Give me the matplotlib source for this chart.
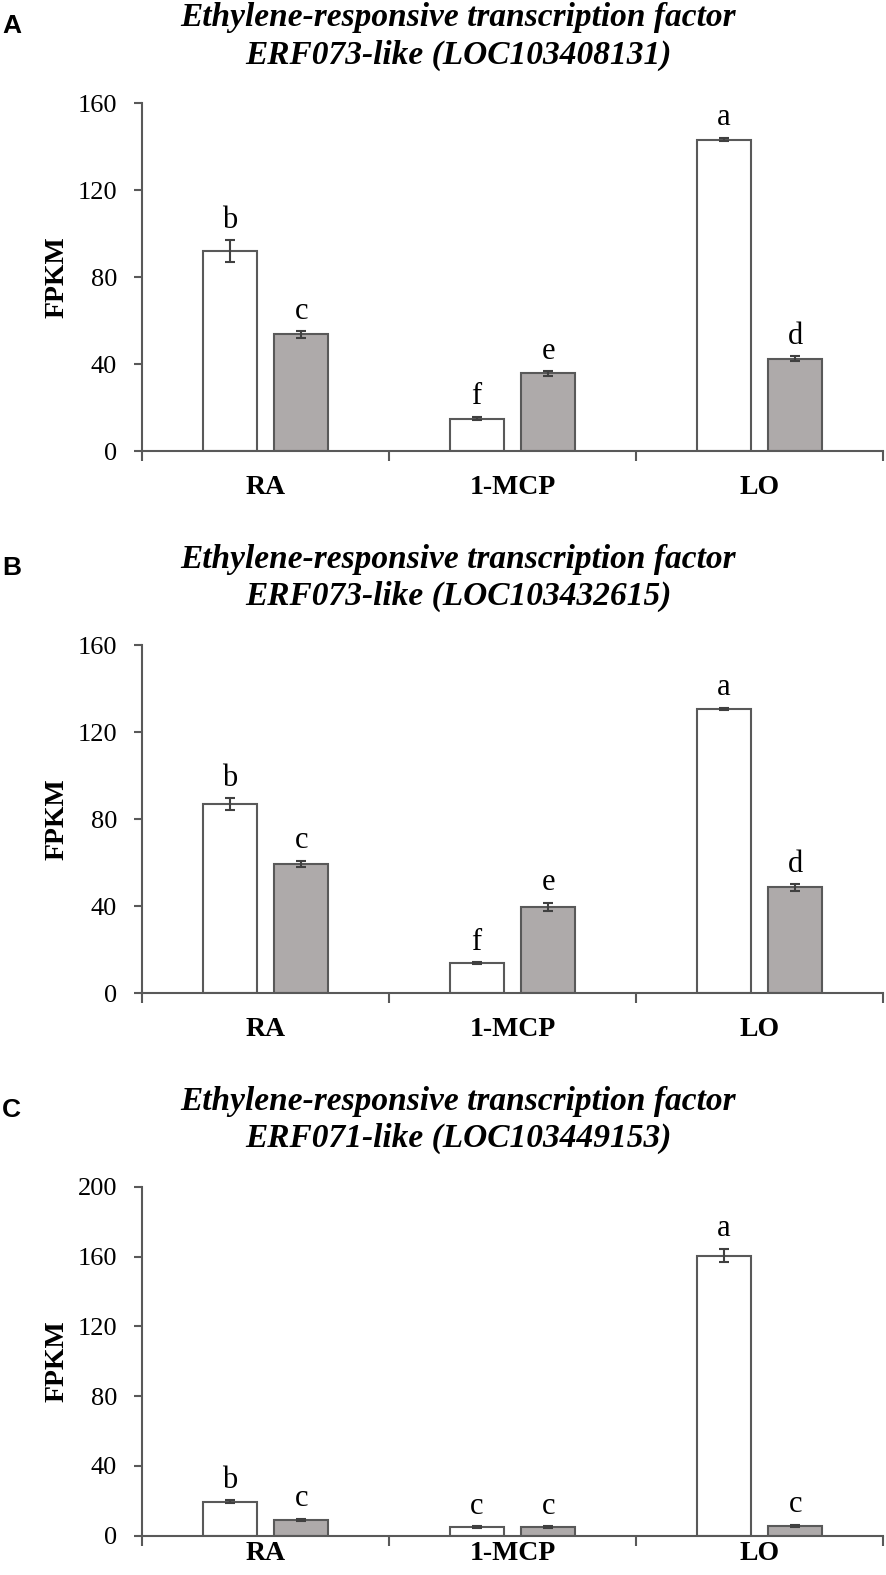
import matplotlib
matplotlib.use("Agg")
import matplotlib.pyplot as plt
import numpy as np

# ---------------- data ----------------
categories = ["RA", "1-MCP", "LO"]

titles = [
    "Ethylene-responsive transcription factor\nERF073-like (LOC103408131)",
    "Ethylene-responsive transcription factor\nERF073-like (LOC103432615)",
    "Ethylene-responsive transcription factor\nERF071-like (LOC103449153)",
]
panel_labels = ["A", "B", "C"]

A_white = [92.0, 14.9, 143.3]
A_white_err = [4.9, 0.8, 0.8]
A_grey = [53.7, 35.7, 42.5]
A_grey_err = [1.5, 1.0, 1.0]
A_white_letters = ["b", "f", "a"]
A_grey_letters = ["c", "e", "d"]

B_white = [86.8, 13.8, 130.6]
B_white_err = [2.8, 0.5, 0.6]
B_grey = [59.4, 39.8, 48.7]
B_grey_err = [1.6, 1.8, 1.5]
B_white_letters = ["b", "f", "a"]
B_grey_letters = ["c", "e", "d"]

C_white = [19.5, 4.8, 160.5]
C_white_err = [0.8, 0.5, 3.9]
C_grey = [9.2, 4.8, 5.8]
C_grey_err = [0.6, 0.6, 0.6]
C_white_letters = ["b", "c", "a"]
C_grey_letters = ["c", "c", "c"]

y_max = [160, 160, 200]
y_step = 40

panels = [
    (A_white, A_white_err, A_grey, A_grey_err, A_white_letters, A_grey_letters),
    (B_white, B_white_err, B_grey, B_grey_err, B_white_letters, B_grey_letters),
    (C_white, C_white_err, C_grey, C_grey_err, C_white_letters, C_grey_letters),
]

# ---------------- style ----------------
W, H = 886, 1575
DPI = 100
SERIF = ["Liberation Serif", "DejaVu Serif"]
SANS = ["Liberation Sans", "DejaVu Sans"]
EDGE = "#595959"
GREY = "#AEAAAA"
ERRC = "#404040"

plt.rcParams["font.family"] = SERIF

fig = plt.figure(figsize=(W / DPI, H / DPI), dpi=DPI)

# axes placement in pixels: (y of zero line, y of top)
ax_rows = [(451, 103.3), (993.3, 645), (1535.7, 1186.7)]
x_left, x_right = 142, 883
xlabel_pads = [17, 17, 4]

bar_w = 0.22
off = 0.145
x = np.arange(len(categories))

for i, (row, data) in enumerate(zip(ax_rows, panels)):
    y0, ytop = row
    white, werr, grey, gerr, wl, gl = data
    ax = fig.add_axes([x_left / W, 1 - y0 / H, (x_right - x_left) / W, (y0 - ytop) / H])

    ax.bar(x - off, white, bar_w, color="white", edgecolor=EDGE, linewidth=1.5, zorder=2)
    ax.bar(x + off, grey, bar_w, color=GREY, edgecolor=EDGE, linewidth=1.5, zorder=2)
    ax.errorbar(x - off, white, yerr=werr, fmt="none", ecolor=ERRC, elinewidth=1.5,
                capsize=3.5, capthick=1.5, zorder=3)
    ax.errorbar(x + off, grey, yerr=gerr, fmt="none", ecolor=ERRC, elinewidth=1.5,
                capsize=3.5, capthick=1.5, zorder=3)

    for xi, v, e, t in zip(x - off, white, werr, wl):
        ax.annotate(t, (xi, v + e), xytext=(0, 9), textcoords="offset points",
                    ha="center", va="baseline", fontsize=22, family=SERIF, color="black")
    for xi, v, e, t in zip(x + off, grey, gerr, gl):
        ax.annotate(t, (xi, v + e), xytext=(0, 9), textcoords="offset points",
                    ha="center", va="baseline", fontsize=22, family=SERIF, color="black")

    ax.set_xlim(-0.5, len(categories) - 0.5)
    ax.set_ylim(0, y_max[i])
    ax.set_yticks(np.arange(0, y_max[i] + 1, y_step))
    ax.tick_params(axis="y", direction="out", length=6, width=1.5, color=EDGE,
                   labelsize=19, pad=12, labelcolor="black")

    # major ticks at category boundaries, labels at centers via minor ticks
    ax.set_xticks(np.arange(-0.5, len(categories), 1.0))
    ax.set_xticklabels([])
    ax.set_xticks(x, minor=True)
    ax.set_xticklabels(categories, minor=True, fontsize=20, fontweight="bold")
    ax.tick_params(axis="x", which="major", direction="out", length=7, width=1.5, color=EDGE)
    ax.tick_params(axis="x", which="minor", length=0, pad=xlabel_pads[i])

    for s in ["top", "right"]:
        ax.spines[s].set_visible(False)
    for s in ["left", "bottom"]:
        ax.spines[s].set_color(EDGE)
        ax.spines[s].set_linewidth(1.5)

    ax.set_ylabel("FPKM", fontsize=20, fontweight="bold", va="center")
    ax.yaxis.set_label_coords((57.5 - x_left) / (x_right - x_left), 0.5)

    # title lines
    line1, line2 = titles[i].split("\n")
    base1 = ytop - 77
    base2 = ytop - 40
    fig.text(458 / W, 1 - base1 / H, line1, ha="center", va="baseline", fontsize=24,
             fontweight="bold", fontstyle="italic", family=SERIF)
    fig.text(458 / W, 1 - base2 / H, line2, ha="center", va="baseline", fontsize=24,
             fontweight="bold", fontstyle="italic", family=SERIF)

    # panel label
    fig.text(2 / W, 1 - (ytop - 70) / H, panel_labels[i], ha="left", va="baseline",
             fontsize=19, fontweight="bold", family=SANS)

fig.savefig("out.png", dpi=DPI)
